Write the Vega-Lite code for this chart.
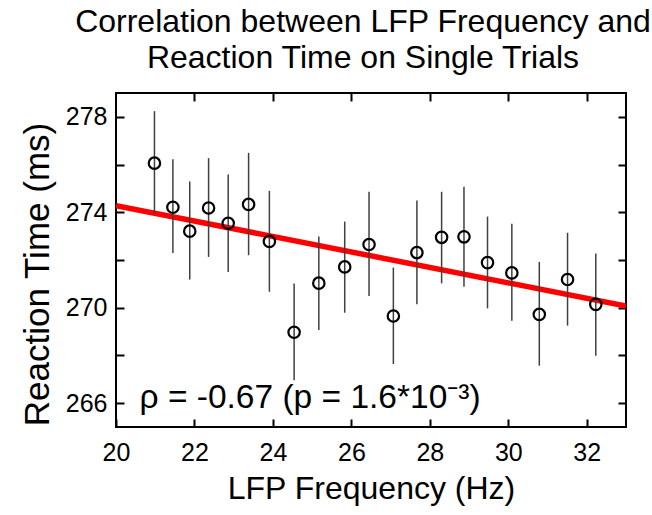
{
  "$schema": "https://vega.github.io/schema/vega-lite/v6.json",
  "autosize": "none",
  "width": 510,
  "height": 334,
  "padding": {"left": 116, "top": 93, "right": 26, "bottom": 88},
  "background": "white",
  "title": {
    "text": ["Correlation between LFP Frequency and", "Reaction Time on Single Trials"],
    "font": "Liberation Sans",
    "fontSize": 32,
    "fontWeight": "normal",
    "color": "black",
    "anchor": "middle",
    "baseline": "alphabetic",
    "lineHeight": 36,
    "offset": 25,
    "dy": 33,
    "dx": -8
  },
  "config": {
    "view": {"stroke": "black", "strokeWidth": 2},
    "axis": {
      "grid": false,
      "domain": false,
      "labelFlush": false,
      "tickColor": "black",
      "tickWidth": 2,
      "tickSize": -8,
      "labelFont": "Liberation Sans",
      "labelFontSize": 25,
      "labelColor": "black",
      "titleFont": "Liberation Sans",
      "titleFontWeight": "normal",
      "titleColor": "black"
    }
  },
  "datasets": {
    "pts": [
      {"freq": 20.98, "rt": 276.06, "lo": 273.93, "hi": 278.24},
      {"freq": 21.45, "rt": 274.21, "lo": 272.29, "hi": 276.22},
      {"freq": 21.88, "rt": 273.21, "lo": 271.18, "hi": 275.29},
      {"freq": 22.36, "rt": 274.18, "lo": 272.13, "hi": 276.27},
      {"freq": 22.86, "rt": 273.54, "lo": 271.5, "hi": 275.58},
      {"freq": 23.38, "rt": 274.33, "lo": 272.2, "hi": 276.49},
      {"freq": 23.91, "rt": 272.78, "lo": 270.67, "hi": 274.9},
      {"freq": 24.54, "rt": 268.97, "lo": 266.96, "hi": 271.02},
      {"freq": 25.17, "rt": 271.03, "lo": 269.07, "hi": 272.99},
      {"freq": 25.83, "rt": 271.71, "lo": 269.79, "hi": 273.61},
      {"freq": 26.45, "rt": 272.65, "lo": 270.49, "hi": 274.86},
      {"freq": 27.07, "rt": 269.65, "lo": 267.64, "hi": 271.68},
      {"freq": 27.67, "rt": 272.31, "lo": 270.14, "hi": 274.49},
      {"freq": 28.3, "rt": 272.95, "lo": 271.02, "hi": 274.86},
      {"freq": 28.87, "rt": 272.97, "lo": 270.88, "hi": 275.07},
      {"freq": 29.47, "rt": 271.89, "lo": 269.97, "hi": 273.82},
      {"freq": 30.09, "rt": 271.46, "lo": 269.45, "hi": 273.52},
      {"freq": 30.79, "rt": 269.72, "lo": 267.57, "hi": 271.92},
      {"freq": 31.51, "rt": 271.18, "lo": 269.25, "hi": 273.14},
      {"freq": 32.23, "rt": 270.14, "lo": 267.99, "hi": 272.27}
    ],
    "fit": [
      {"freq": 20, "rt": 274.28},
      {"freq": 33, "rt": 270.07}
    ],
    "note": [
      {"freq": 20.6, "rt": 265.78, "label": "ρ = -0.67 (p = 1.6*10⁻³)"}
    ]
  },
  "layer": [
    {
      "data": {"name": "fit"},
      "mark": {"type": "line", "color": "#ff0000", "strokeWidth": 5.5, "clip": true},
      "encoding": {
        "x": {"field": "freq", "type": "quantitative", "scale": {"domain": [20, 33], "nice": false, "zero": false},
          "axis": {"orient": "bottom", "values": [20, 22, 24, 26, 28, 30, 32], "labelPadding": 21, "title": "LFP Frequency (Hz)", "titleFontSize": 32, "titlePadding": 8}},
        "y": {"field": "rt", "type": "quantitative", "scale": {"domain": [265, 279], "nice": false, "zero": false},
          "axis": {"orient": "left", "values": [266, 268, 270, 272, 274, 276, 278], "labelExpr": "datum.value % 4 == 2 ? datum.label : ''", "labelPadding": 17, "title": "Reaction Time (ms)", "titleFontSize": 35, "titlePadding": 10, "titleY": 181}}
      }
    },
    {
      "data": {"name": "pts"},
      "mark": {"type": "rule", "color": "#404040", "strokeWidth": 1.5},
      "encoding": {
        "x": {"field": "freq", "type": "quantitative", "scale": {"domain": [20, 33], "nice": false, "zero": false},
          "axis": {"orient": "top", "values": [22, 24, 26, 28, 30, 32], "labels": false, "title": null}},
        "y": {"field": "lo", "type": "quantitative", "scale": {"domain": [265, 279], "nice": false, "zero": false},
          "axis": {"orient": "right", "values": [266, 268, 270, 272, 274, 276, 278], "labels": false, "title": null}},
        "y2": {"field": "hi"}
      }
    },
    {
      "data": {"name": "pts"},
      "mark": {"type": "point", "shape": "circle", "filled": false, "color": "black", "strokeWidth": 2.2, "size": 130, "opacity": 1},
      "encoding": {
        "x": {"field": "freq", "type": "quantitative", "scale": {"domain": [20, 33], "nice": false, "zero": false}, "axis": null},
        "y": {"field": "rt", "type": "quantitative", "scale": {"domain": [265, 279], "nice": false, "zero": false}, "axis": null}
      }
    },
    {
      "data": {"name": "note"},
      "mark": {"type": "text", "align": "left", "baseline": "alphabetic", "font": "Liberation Sans", "fontSize": 33.5, "color": "black"},
      "encoding": {
        "x": {"field": "freq", "type": "quantitative", "scale": {"domain": [20, 33], "nice": false, "zero": false}, "axis": null},
        "y": {"field": "rt", "type": "quantitative", "scale": {"domain": [265, 279], "nice": false, "zero": false}, "axis": null},
        "text": {"field": "label"}
      }
    }
  ],
  "resolve": {"axis": {"x": "independent", "y": "independent"}}
}
